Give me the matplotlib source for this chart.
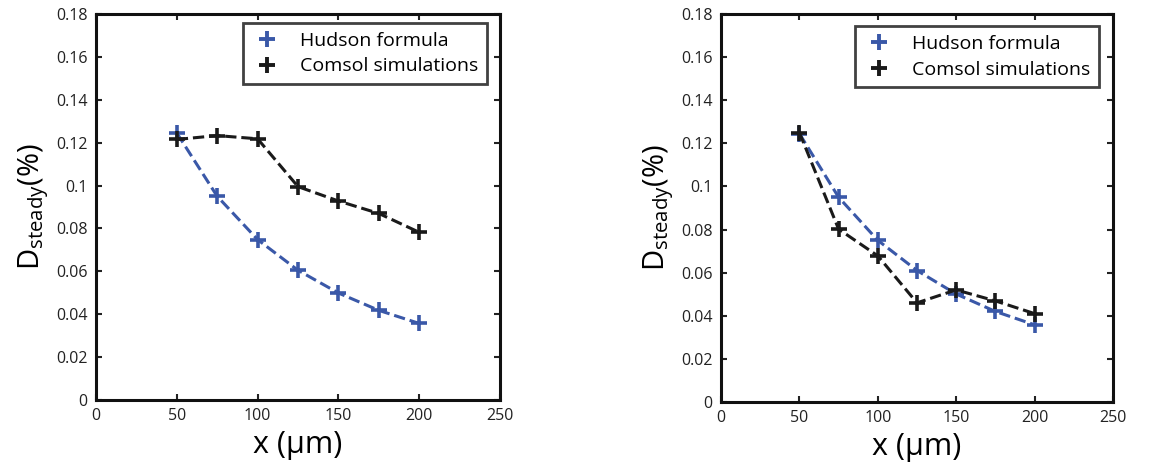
import matplotlib
matplotlib.use("Agg")
import matplotlib.pyplot as plt
from matplotlib.lines import Line2D

plt.rcParams['font.family'] = ['Open Sans', 'DejaVu Sans']

x_vals = [50, 75, 100, 125, 150, 175, 200]

# left panel
hudson_left = [0.1245, 0.095, 0.0748, 0.0605, 0.0499, 0.0418, 0.0357]
comsol_left = [0.1215, 0.1233, 0.1218, 0.0995, 0.0928, 0.0870, 0.0782]

# right panel
hudson_right = [0.1245, 0.095, 0.0750, 0.0610, 0.0501, 0.0420, 0.0358]
comsol_right = [0.1250, 0.0802, 0.0678, 0.0460, 0.0520, 0.0469, 0.0410]

x_ticks = [0, 50, 100, 150, 200, 250]
y_ticks = [0, 0.02, 0.04, 0.06, 0.08, 0.1, 0.12, 0.14, 0.16, 0.18]
y_tick_labels = ["0", "0.02", "0.04", "0.06", "0.08", "0.1", "0.12", "0.14", "0.16", "0.18"]
labels = ["Hudson formula", "Comsol simulations"]

blue = "#3a58a8"
black = "#1a1a1a"

W, H = 1157, 469
fig = plt.figure(figsize=(W / 100, H / 100), dpi=100)

boxes = [
    [96 / W, (H - 400) / H, 404 / W, 386 / H],
    [721 / W, (H - 402) / H, 392 / W, 388 / H],
]
panels = [(hudson_left, comsol_left), (hudson_right, comsol_right)]
legend_anchor = [(0.968, 0.977), (0.964, 0.969)]

for box, (hud, com), anchor in zip(boxes, panels, legend_anchor):
    ax = fig.add_axes(box)
    ax.plot(x_vals, hud, linestyle="--", color=blue, lw=2.2, marker="+",
            markersize=11, markeredgewidth=2.6)
    ax.plot(x_vals, com, linestyle="--", color=black, lw=2.2, marker="+",
            markersize=11, markeredgewidth=2.6)
    ax.set_xlim(0, 250)
    ax.set_ylim(0, 0.18)
    ax.set_xticks(x_ticks)
    ax.set_yticks(y_ticks)
    ax.set_yticklabels(y_tick_labels)
    ax.tick_params(direction="in", length=4, width=1.5, top=True, right=True,
                   labelsize=11.5, colors="#222222", pad=6)
    for s in ax.spines.values():
        s.set_linewidth(2.2)
        s.set_color("#111111")
    ax.set_xlabel("x (µm)", fontsize=22, labelpad=4)
    ax.set_ylabel(r"D$_{\mathregular{steady}}$(%)", fontsize=21, labelpad=4)
    # legend shows markers only, like the original
    handles = [Line2D([], [], linestyle="None", marker="+", color=c,
                      markersize=12, markeredgewidth=2.8) for c in (blue, black)]
    leg = ax.legend(handles, labels, loc="upper right", fontsize=14,
                    frameon=True, fancybox=False, edgecolor="#111111",
                    borderpad=0.45, handlelength=1.6, handletextpad=0.9,
                    labelspacing=0.4, borderaxespad=0, bbox_to_anchor=anchor)
    leg.get_frame().set_linewidth(2)

fig.savefig("out.png", dpi=100)
